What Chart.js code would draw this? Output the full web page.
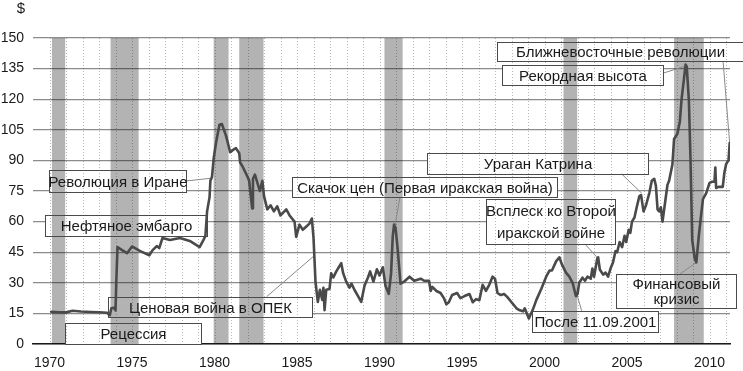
<!DOCTYPE html>
<html><head><meta charset="utf-8">
<script src="https://cdn.jsdelivr.net/npm/chart.js"></script>
<style>html,body{margin:0;padding:0;background:#fff}canvas{display:block}</style>
</head><body>
<canvas id="c" width="743" height="371"></canvas>
<script>
// ---- data ----
const years = [1970.1,1970.6,1971.0,1971.4,1971.9,1972.5,1973.0,1973.5,1973.65,1973.75,1973.9,1974.0,1974.05,1974.12,1974.4,1974.7,1975.0,1975.5,1976.05,1976.25,1976.5,1976.65,1976.85,1977.3,1977.9,1978.5,1979.1,1979.3,1979.45,1979.55,1979.7,1979.75,1979.85,1979.95,1980.1,1980.3,1980.45,1980.7,1980.95,1981.1,1981.3,1981.5,1981.55,1981.7,1982.0,1982.1,1982.2,1982.28,1982.33,1982.45,1982.6,1982.75,1982.9,1983.0,1983.2,1983.4,1983.6,1983.8,1984.0,1984.35,1984.55,1984.85,1984.95,1985.15,1985.35,1985.55,1985.75,1985.9,1986.0,1986.12,1986.26,1986.39,1986.53,1986.6,1986.67,1986.77,1986.97,1987.07,1987.2,1987.38,1987.68,1987.8,1987.98,1988.18,1988.3,1988.48,1988.69,1988.89,1989.09,1989.3,1989.43,1989.63,1989.84,1990.0,1990.2,1990.36,1990.56,1990.7,1990.8,1990.88,1990.97,1991.1,1991.27,1991.5,1991.82,1992.1,1992.5,1992.7,1993.0,1993.1,1993.2,1993.45,1993.7,1993.9,1994.05,1994.2,1994.4,1994.7,1994.9,1995.15,1995.45,1995.65,1995.85,1996.05,1996.25,1996.45,1996.65,1996.85,1997.0,1997.15,1997.35,1997.55,1997.75,1998.05,1998.3,1998.5,1998.7,1998.8,1999.05,1999.3,1999.5,1999.8,2000.1,2000.3,2000.45,2000.7,2000.9,2001.05,2001.3,2001.5,2001.7,2001.9,2002.0,2002.1,2002.3,2002.45,2002.6,2002.8,2002.9,2003.0,2003.2,2003.25,2003.35,2003.55,2003.7,2003.85,2004.0,2004.15,2004.3,2004.4,2004.55,2004.7,2004.85,2004.95,2005.1,2005.2,2005.3,2005.45,2005.6,2005.75,2005.85,2006.0,2006.15,2006.3,2006.35,2006.5,2006.65,2006.75,2006.85,2006.95,2007.05,2007.15,2007.3,2007.45,2007.55,2007.75,2007.85,2008.05,2008.2,2008.3,2008.45,2008.55,2008.62,2008.75,2008.85,2008.95,2009.1,2009.2,2009.35,2009.5,2009.6,2009.8,2010.0,2010.15,2010.3,2010.35,2010.4,2010.55,2010.8,2010.9,2011.0,2011.1,2011.15,2011.22];
const prices = [15.8,15.6,15.5,16.3,15.9,15.7,15.6,15.3,14.0,17.5,17.8,16.5,31,47.5,46,44.5,47.8,45.5,43.5,46,48,47,52,51,52,50.5,47.5,50.5,53,65,72,80,82,91,99,107.5,107.8,102,94,95,96,93.5,89,87,82,80,72.5,66.5,81,83,79,75,80,72.5,66,68,65,67.5,63,66,63,60,52.5,58.5,56,57.5,59,61.5,52,30.6,20.6,26.6,21.6,27.6,16.6,26.6,27,34.6,32.6,35.6,39.6,34.6,30.6,27.6,29.6,26.6,23.6,20.6,28.6,32.6,35.6,30.6,36.6,33.6,37.6,28.6,24.6,34.6,52.6,58.5,57,46.6,29.6,30.6,33,31,32,31,31,26,28,26,25,22.5,19.5,20.5,24,25,22.5,23.5,24.5,20.5,22,21.5,29,26,29,33,32,25,24,24.5,23,20,17.5,16.5,16,17.5,12.5,17,21.5,27,33,36,36,40.5,42.5,39,35,33,30,23.5,24.5,30,32.5,31,33,32,37,33,42,42.5,36.5,34,35,33,37,40,45.5,45,50,47.5,53,50,56,54.5,60,62,67.5,72.5,73,65,68,72.5,74,80,81,77.5,66,65,67,60,69,78,80,88,100.5,103,109,119.5,130,137,136,119,89.5,51,42,40,53,64,71,74,79,79.5,79.5,86.5,76.5,77,77,84,88,89.5,90,98.5];
const yTickValues = [0,15,30,45,60,75,90,105,120,135,150];
const xTickLabels = [1970,1975,1980,1985,1990,1995,2000,2005,2010];
const recessionStarts = [1970.15,1973.7,1979.95,1981.5,1990.3,2001.15,2007.85];
const recessionEnds   = [1970.95,1975.4,1980.85,1982.97,1991.4,2001.98,2009.65];
const unitLabel = "$";
const annotationTexts = [
  ["Ближневосточные революции"],
  ["Рекордная высота"],
  ["Ураган Катрина"],
  ["Скачок цен (Первая иракская война)"],
  ["Революция в Иране"],
  ["Нефтяное эмбарго"],
  ["Ценовая война в ОПЕК"],
  ["Рецессия"],
  ["Всплеск ко Второй","иракской войне"],
  ["После 11.09.2001"],
  ["Финансовый","кризис"]
];
// ---- annotation placement (data coordinates) ----
const annotationLayout = [
  {box:[1997.10,148.2,2012.03,138.7], lead:[[2010.82,138.7],[2011.22,98.5]]},
  {box:[1997.41,136.8,2007.20,127.0], lead:[[2007.20,132.8],[2008.45,136.0]]},
  {box:[1992.88,93.8,2006.25,83.3], lead:[[2004.68,83.3],[2005.89,73.9]]},
  {box:[1984.68,81.7,2000.74,71.9], lead:[[1991.24,71.9],[1990.94,58.3]]},
  {box:[1969.99,85.3,1978.25,74.7], lead:[[1978.25,79.9],[1979.73,81.2]]},
  {box:[1969.73,63.2,1979.53,52.9], lead:null},
  {box:[1973.56,23.2,1985.89,13.1], lead:[[1983.16,23.2],[1986.09,43.6]]},
  {box:[1970.94,10.1,1979.18,0], lead:null},
  {box:[1996.45,70.9,2004.27,49.0], lead:[[2002.45,49.0],[2003.20,42.3]], gap:22},
  {box:[1999.22,16.3,2006.90,6.0], lead:[[2002.25,16.3],[2001.97,24.0]]},
  {box:[2004.33,34.3,2011.61,17.6], lead:[[2008.21,34.3],[2009.18,39.9]], gap:14.5}
];

const FAMILY = "'Liberation Sans', Arial, sans-serif";

const backgroundPlugin = {
  id:'bg',
  beforeDraw(chart){
    const c = chart.ctx;
    c.save(); c.fillStyle = '#ffffff'; c.fillRect(0,0,chart.width,chart.height);
    c.fillStyle = '#1a1a1a'; c.font = '15px ' + FAMILY; c.textAlign='center'; c.textBaseline='middle';
    c.fillText(unitLabel, 21, 9);
    c.restore();
  }
};

const overlayPlugin = {
  id:'overlay',
  beforeDatasetsDraw(chart){
    const c = chart.ctx, xs = chart.scales.x, ys = chart.scales.y, a = chart.chartArea;
    const rects = annotationLayout.map(l => {
      const x1 = Math.round(xs.getPixelForValue(l.box[0])) + 0.5;
      const x2 = Math.round(xs.getPixelForValue(l.box[2])) + 0.5;
      const y1 = Math.round(ys.getPixelForValue(l.box[1])) + 0.5;
      const y2 = Math.round(ys.getPixelForValue(l.box[3])) + 0.5;
      return {x1,x2,y1,y2};
    });
    c.save();
    c.fillStyle = '#ffffff';
    rects.forEach(r => c.fillRect(r.x1, r.y1, r.x2 - r.x1, r.y2 - r.y1));
    c.globalCompositeOperation = 'multiply';
    c.fillStyle = '#b3b3b3';
    recessionStarts.forEach((s,i) => {
      const x1 = xs.getPixelForValue(s), x2 = xs.getPixelForValue(recessionEnds[i]);
      c.fillRect(x1, a.top, x2 - x1, a.bottom - a.top);
    });
    c.strokeStyle = '#b9b9b9'; c.lineWidth = 1; c.setLineDash([1,2]);
    xs.ticks.forEach(t => {
      const x = Math.round(xs.getPixelForValue(t.value)) + 0.5;
      c.beginPath(); c.moveTo(x, a.top); c.lineTo(x, a.bottom); c.stroke();
    });
    c.setLineDash([]);
    c.globalCompositeOperation = 'source-over';
    c.strokeStyle = '#8a8a8a'; c.lineWidth = 1;
    annotationLayout.forEach(l => {
      if (!l.lead) return;
      c.beginPath();
      c.moveTo(xs.getPixelForValue(l.lead[0][0]), ys.getPixelForValue(l.lead[0][1]));
      c.lineTo(xs.getPixelForValue(l.lead[1][0]), ys.getPixelForValue(l.lead[1][1]));
      c.stroke();
    });
    c.strokeStyle = '#4a4a4a'; c.lineWidth = 1;
    c.fillStyle = '#1a1a1a'; c.font = '15px ' + FAMILY; c.textAlign = 'center'; c.textBaseline = 'middle';
    rects.forEach((r,i) => {
      c.strokeRect(r.x1, r.y1, r.x2 - r.x1, r.y2 - r.y1);
      const lines = annotationTexts[i];
      const cx = (r.x1 + r.x2) / 2, cy = (r.y1 + r.y2) / 2;
      const gap = annotationLayout[i].gap || 16;
      lines.forEach((t,k) => c.fillText(t, cx, cy + (k - (lines.length - 1) / 2) * gap + 1));
    });
    c.restore();
  }
};

new Chart(document.getElementById('c').getContext('2d'), {
  type: 'line',
  data: { datasets: [{
    data: years.map((x,i) => ({x, y: prices[i]})),
    borderColor: '#4a4a4a', borderWidth: 2.6, pointRadius: 0, tension: 0, fill: false,
    borderJoinStyle: 'round', borderCapStyle: 'round'
  }]},
  options: {
    responsive: false, animation: false, devicePixelRatio: 1,
    layout: { padding: { top: 38, right: 13, left: 0, bottom: 0 } },
    plugins: { legend: { display: false }, tooltip: { enabled: false } },
    scales: {
      x: {
        type: 'linear', min: 1969, max: 2011.24,
        afterBuildTicks(s){ const t = []; for (let yr = xTickLabels[0]; yr <= 2011; yr++) t.push({value: yr}); s.ticks = t; },
        afterFit(s){ s.height = 27; },
        ticks: { autoSkip: false, maxRotation: 0, padding: 11, color: '#1a1a1a', font: { family: FAMILY, size: 14 },
                 callback: v => xTickLabels.includes(v) ? String(v) : '' },
        grid: { display: false, drawTicks: false },
        border: { display: true, color: '#1a1a1a', width: 1.5 }
      },
      y: {
        min: 0, max: 150,
        afterBuildTicks(s){ s.ticks = yTickValues.map(v => ({value: v})); },
        afterFit(s){ s.width = 33; },
        ticks: { padding: 9, color: '#1a1a1a', font: { family: FAMILY, size: 14 }, callback: v => String(v) },
        grid: { color: '#8c8c8c', lineWidth: 1.3, drawTicks: false },
        border: { display: false }
      }
    }
  },
  plugins: [backgroundPlugin, overlayPlugin]
});
</script>
</body></html>
